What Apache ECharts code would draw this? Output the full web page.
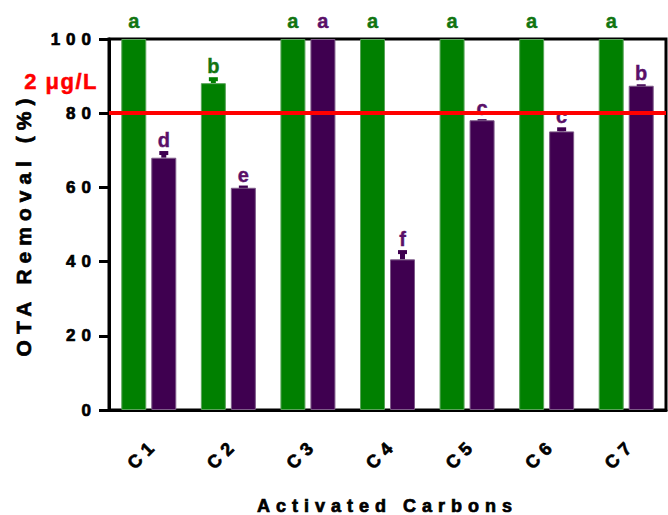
<!DOCTYPE html>
<html>
<head>
<meta charset="utf-8">
<script src="https://cdn.jsdelivr.net/npm/echarts@6/dist/echarts.min.js"></script>
<style>
    html, body { margin: 0; padding: 0; background: #fff; }
    #container { width: 668px; height: 515px; }
    /* GraphPad-like wide tracking on axis text */
    #container text { letter-spacing: 6px; }
    #container text[style*="Arial"] { letter-spacing: 0; }
    #container text[style*="22px"] { letter-spacing: 1.5px; }
</style>
</head>
<body>
<div id="container"></div>
<script>
var dom = document.getElementById('container');
var myChart = echarts.init(dom, null, {
    renderer: 'svg'
});

// data
const categories = ['C1', 'C2', 'C3', 'C4', 'C5', 'C6', 'C7'];
const greenVals = [100, 88.1, 100, 100, 100, 100, 100];
const greenErr = [1.9, 1.6, 1.9, 1.9, 1.9, 1.9, 1.9];
const greenLetters = ['a', 'b', 'a', 'a', 'a', 'a', 'a'];
const purpleVals = [68.0, 59.9, 100, 40.6, 78.1, 75.1, 87.4];
const purpleErr = [1.8, 0.6, 1.9, 2.5, 0.3, 1.1, 0.4];
const purpleLetters = ['d', 'e', 'a', 'f', 'c', 'c', 'b'];
const limitValue = 80;
const limitLabel = '2 μg/L';
const yTicks = [0, 20, 40, 60, 80, 100];

const GREEN = '#008000';
const PURPLE = '#3f0050';
const BAR_W = 25;
const BAR_GAP = 5;
const SPACED = 'Liberation Sans';
const PLAIN = 'Liberation Sans, Arial';

const axisText = {
    fontFamily: SPACED,
    fontWeight: 'bold',
    color: '#000',
    textBorderColor: '#000',
    textBorderWidth: 0.7
};

// error caps + significance letters, drawn on the bar axis
function errorItem(vals, errs, letters, offset, color, textColor) {
    return function (params, api) {
        const i = params.dataIndex;
        const base = api.coord([i, vals[i]]);
        const tip = api.coord([i, vals[i] + errs[i]]);
        const top = api.coord([i, yTicks[yTicks.length - 1]])[1];
        const x = base[0] + offset;
        const children = [];
        if (tip[1] >= top - 0.5) {
            children.push({
                type: 'rect',
                shape: { x: x - 2.5, y: tip[1] + 3, width: 5, height: Math.max(0, base[1] - tip[1] - 3) },
                style: { fill: color }
            });
            children.push({
                type: 'rect',
                shape: { x: x - 4.5, y: tip[1], width: 9, height: 4 },
                style: { fill: color }
            });
        }
        children.push({
            type: 'text',
            style: {
                text: letters[i],
                x: x,
                y: tip[1] - 1,
                textAlign: 'center',
                textVerticalAlign: 'bottom',
                font: 'bold 20px ' + PLAIN,
                fill: textColor,
                stroke: textColor,
                lineWidth: 0.4
            }
        });
        return { type: 'group', children: children };
    };
}

var option = {
    animation: false,
    grid: {
        left: 109,
        right: 2,
        top: 39,
        bottom: 105,
        outerBoundsMode: 'none',
        show: true,
        borderColor: '#000',
        borderWidth: 3,
        backgroundColor: 'transparent'
    },
    xAxis: {
        type: 'category',
        data: categories,
        name: 'Activated Carbons',
        nameLocation: 'middle',
        nameGap: 87,
        nameTextStyle: Object.assign({ fontSize: 18 }, axisText),
        axisLine: { lineStyle: { color: '#000', width: 3 } },
        axisTick: { alignWithLabel: true, length: 10, lineStyle: { color: '#000', width: 3 } },
        axisLabel: Object.assign({
            rotate: 45,
            interval: 0,
            margin: 25,
            verticalAlign: 'top',
            fontSize: 18
        }, axisText),
        splitLine: { show: false }
    },
    yAxis: {
        type: 'value',
        min: 0,
        max: 100,
        interval: 20,
        name: 'OTA Removal (%)',
        nameLocation: 'middle',
        nameGap: 75,
        nameTextStyle: Object.assign({ fontSize: 21 }, axisText),
        axisLine: { show: true, lineStyle: { color: '#000', width: 3 } },
        axisTick: { show: true, length: 10, lineStyle: { color: '#000', width: 3 } },
        axisLabel: Object.assign({ margin: 12, fontSize: 17 }, axisText),
        splitLine: { show: false }
    },
    series: [
        {
            // threshold line, kept behind the bars
            type: 'line',
            z: 1,
            data: [],
            markLine: {
                silent: true,
                symbol: 'none',
                lineStyle: { color: '#ff0000', width: 4, type: 'solid' },
                label: {
                    show: true,
                    position: 'insideStartTop',
                    distance: [-11, 21],
                    align: 'right',
                    formatter: limitLabel,
                    fontFamily: SPACED,
                    fontWeight: 'bold',
                    fontSize: 22,
                    color: '#ff0000',
                    textBorderColor: '#ff0000',
                    textBorderWidth: 0.5
                },
                data: [{ yAxis: limitValue }]
            }
        },
        {
            type: 'bar',
            data: greenVals,
            barWidth: BAR_W,
            barGap: (BAR_GAP / BAR_W * 100) + '%',
            itemStyle: { color: GREEN, borderColor: '#5aa35a', borderWidth: 1 }
        },
        {
            type: 'bar',
            data: purpleVals,
            barWidth: BAR_W,
            itemStyle: { color: PURPLE, borderColor: '#7d5a88', borderWidth: 1 }
        },
        {
            type: 'custom',
            data: greenVals.map((v, i) => [i, v + greenErr[i]]),
            encode: { x: 0, y: 1 },
            renderItem: errorItem(greenVals, greenErr, greenLetters, -(BAR_W + BAR_GAP) / 2, GREEN, '#117511')
        },
        {
            type: 'custom',
            data: purpleVals.map((v, i) => [i, v + purpleErr[i]]),
            encode: { x: 0, y: 1 },
            renderItem: errorItem(purpleVals, purpleErr, purpleLetters, (BAR_W + BAR_GAP) / 2, PURPLE, '#5a1068')
        }
    ]
};

if (option && typeof option === 'object') {
    myChart.setOption(option);
}

window.addEventListener('resize', myChart.resize);
</script>
</body>
</html>
